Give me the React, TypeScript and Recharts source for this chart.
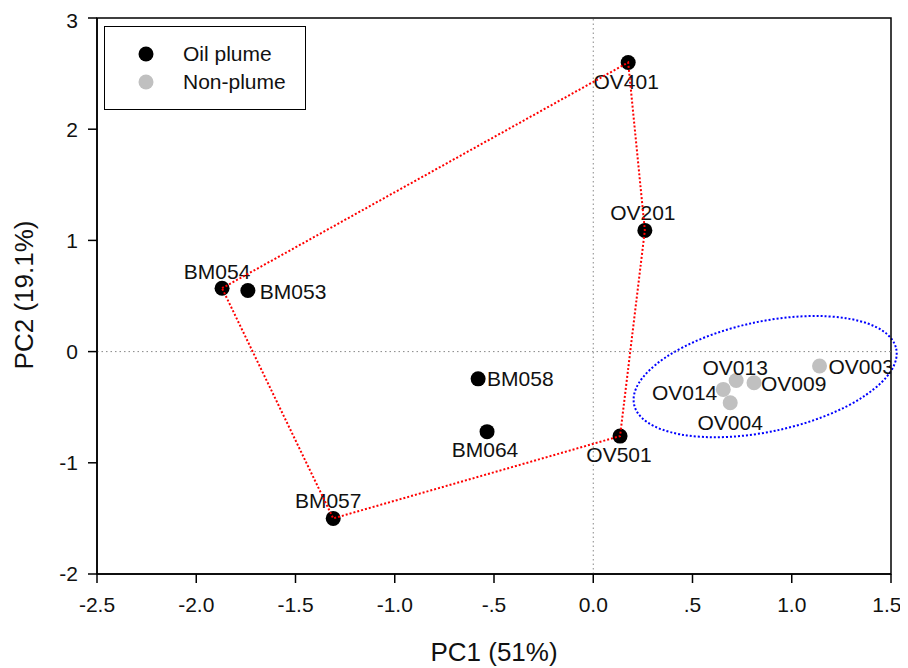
import React from 'react'
import {
  ScatterChart,
  Scatter,
  XAxis,
  YAxis,
  ReferenceLine,
  ReferenceArea,
} from 'recharts'

const FONT = 'Arial, "Liberation Sans", Helvetica, sans-serif'
const INK = '#111'

// oil plume samples (PC1, PC2 scores)
const oilNames = ['OV401', 'OV201', 'BM054', 'BM053', 'BM058', 'BM064', 'BM057', 'OV501']
const oilPC1 = [0.176, 0.26, -1.87, -1.74, -0.58, -0.535, -1.31, 0.135]
const oilPC2 = [2.6, 1.09, 0.57, 0.55, -0.245, -0.72, -1.5, -0.76]

// non-plume samples
const nonNames = ['OV003', 'OV009', 'OV013', 'OV014', 'OV004']
const nonPC1 = [1.14, 0.81, 0.72, 0.655, 0.69]
const nonPC2 = [-0.13, -0.28, -0.26, -0.34, -0.46]

// outline around the plume samples, closed on the first one
const hullOrder = ['BM054', 'OV401', 'OV201', 'OV501', 'BM057', 'BM054']

const xTicks = [-2.5, -2, -1.5, -1, -0.5, 0, 0.5, 1, 1.5]
const yTicks = [-2, -1, 0, 1, 2, 3]

// ellipse round the non-plume cluster: centre and semi-axes in data units, tilt in degrees
const clusterCentre = { x: 0.866, y: -0.225 }
const clusterRadius = { x: 0.675, y: 0.495 }
const clusterTilt = 12

// where each sample name sits relative to its dot: dx, dy, anchor
const LABEL_OFFSET: Record<string, [number, number, 'start' | 'middle' | 'end']> = {
  OV401: [-2, 19, 'middle'],
  OV201: [-2, -18, 'middle'],
  BM054: [-5, -17, 'middle'],
  BM053: [12, 1, 'start'],
  BM058: [9, 0, 'start'],
  BM064: [-2, 18, 'middle'],
  BM057: [-5, -18, 'middle'],
  OV501: [-1, 19, 'middle'],
  OV003: [9, 1, 'start'],
  OV009: [7, 1, 'start'],
  OV013: [-1, -13, 'middle'],
  OV014: [-6, 3, 'end'],
  OV004: [0, 20, 'middle'],
}

const OIL = '#000000'
const NON = '#c0c0c0'

const oilData = oilNames.map((name, i) => ({ name, x: oilPC1[i], y: oilPC2[i] }))
const nonData = nonNames.map((name, i) => ({ name, x: nonPC1[i], y: nonPC2[i] }))
const hullData = hullOrder.map(n => oilData.find(d => d.name === n)!)

const fmtX = (v: number) => {
  if (v === 0) return '0.0'
  if (Math.abs(v) < 1) return (v < 0 ? '-' : '') + '.5'
  return v.toFixed(1)
}

const sampleDot = (fill: string) => (p: any) => {
  const name = p.payload?.name as string
  const [dx, dy, anchor] = LABEL_OFFSET[name] ?? [0, 0, 'middle']
  return (
    <g>
      <circle cx={p.cx} cy={p.cy} r={7.5} fill={fill} />
      <text
        x={p.cx + dx}
        y={p.cy + dy}
        dy="0.35em"
        textAnchor={anchor}
        fontSize={21}
        fontFamily={FONT}
        fill={INK}
      >
        {name}
      </text>
    </g>
  )
}

const clusterEllipse = (p: any) => {
  const cx = p.x + p.width / 2
  const cy = p.y + p.height / 2
  return (
    <ellipse
      cx={cx}
      cy={cy}
      rx={Math.abs(p.width) / 2}
      ry={Math.abs(p.height) / 2}
      transform={`rotate(${-clusterTilt} ${cx} ${cy})`}
      fill="none"
      stroke="#0000ff"
      strokeWidth={2}
      strokeDasharray="2 2"
    />
  )
}

const AXIS_LINE = { stroke: '#000', strokeWidth: 1.5 }
const TICK = { fontSize: 21, fill: INK, fontFamily: FONT }

function LegendBox() {
  return (
    <div
      style={{
        position: 'absolute',
        left: 96,
        top: 18,
        width: 202,
        height: 84,
        boxSizing: 'border-box',
        border: '1.5px solid #000',
        background: '#fff',
      }}
    >
      <svg width={200} height={82} style={{ position: 'absolute', left: 0, top: 0 }}>
        <circle cx={41} cy={27} r={7.5} fill={OIL} />
        <circle cx={41} cy={55} r={7.5} fill={NON} />
        <text x={78} y={27} dy="0.35em" fontSize={21} fontFamily={FONT} fill={INK}>Oil plume</text>
        <text x={78} y={55} dy="0.35em" fontSize={21} fontFamily={FONT} fill={INK}>Non-plume</text>
      </svg>
    </div>
  )
}

export default function App() {
  return (
    <div style={{ position: 'relative', width: 892, height: 660, background: '#fff' }}>
      <ScatterChart width={892} height={660} margin={{ top: 10, right: 9, bottom: 0, left: 0 }}>
        <XAxis
          type="number"
          dataKey="x"
          domain={[-2.5, 1.5]}
          ticks={xTicks}
          allowDataOverflow
          tickFormatter={fmtX}
          tickSize={9}
          tickMargin={14}
          height={94}
          axisLine={AXIS_LINE}
          tickLine={AXIS_LINE}
          tick={TICK}
          label={(props: any) => {
            const vb = props.viewBox
            return (
              <text
                x={vb.x + vb.width / 2}
                y={vb.y + 78}
                dy="0.35em"
                textAnchor="middle"
                fontSize={26}
                fontFamily={FONT}
                fill={INK}
              >
                PC1 (51%)
              </text>
            )
          }}
        />
        <YAxis
          type="number"
          dataKey="y"
          domain={[-2, 3]}
          ticks={yTicks}
          allowDataOverflow
          tickSize={9}
          tickMargin={10}
          width={89}
          axisLine={AXIS_LINE}
          tickLine={AXIS_LINE}
          tick={TICK}
          label={(props: any) => {
            const vb = props.viewBox
            const x = vb.x + 16
            const y = vb.y + vb.height / 2 - 1
            return (
              <text
                x={x}
                y={y}
                dy="0.35em"
                textAnchor="middle"
                transform={`rotate(-90 ${x} ${y})`}
                fontSize={26}
                fontFamily={FONT}
                fill={INK}
              >
                PC2 (19.1%)
              </text>
            )
          }}
        />

        <ReferenceLine x={0} stroke="#888" strokeWidth={1} strokeDasharray="1.5 3" />
        <ReferenceLine y={0} stroke="#888" strokeWidth={1} strokeDasharray="1.5 3" />

        <ReferenceArea
          x1={clusterCentre.x - clusterRadius.x}
          x2={clusterCentre.x + clusterRadius.x}
          y1={clusterCentre.y - clusterRadius.y}
          y2={clusterCentre.y + clusterRadius.y}
          ifOverflow="visible"
          shape={clusterEllipse}
        />

        <Scatter
          name="Non-plume"
          data={nonData}
          fill={NON}
          shape={sampleDot(NON)}
          isAnimationActive={false}
        />
        <Scatter
          name="Oil plume"
          data={oilData}
          fill={OIL}
          shape={sampleDot(OIL)}
          isAnimationActive={false}
        />
        <Scatter
          data={hullData}
          legendType="none"
          line={{ stroke: '#ff0000', strokeWidth: 2, strokeDasharray: '2 2' }}
          shape={() => <g />}
          isAnimationActive={false}
        />

        {/* plot frame */}
        <ReferenceArea
          x1={-2.5}
          x2={1.5}
          y1={-2}
          y2={3}
          ifOverflow="visible"
          fill="none"
          fillOpacity={0}
          stroke="#000"
          strokeWidth={1.5}
        />
      </ScatterChart>
      <LegendBox />
    </div>
  )
}
